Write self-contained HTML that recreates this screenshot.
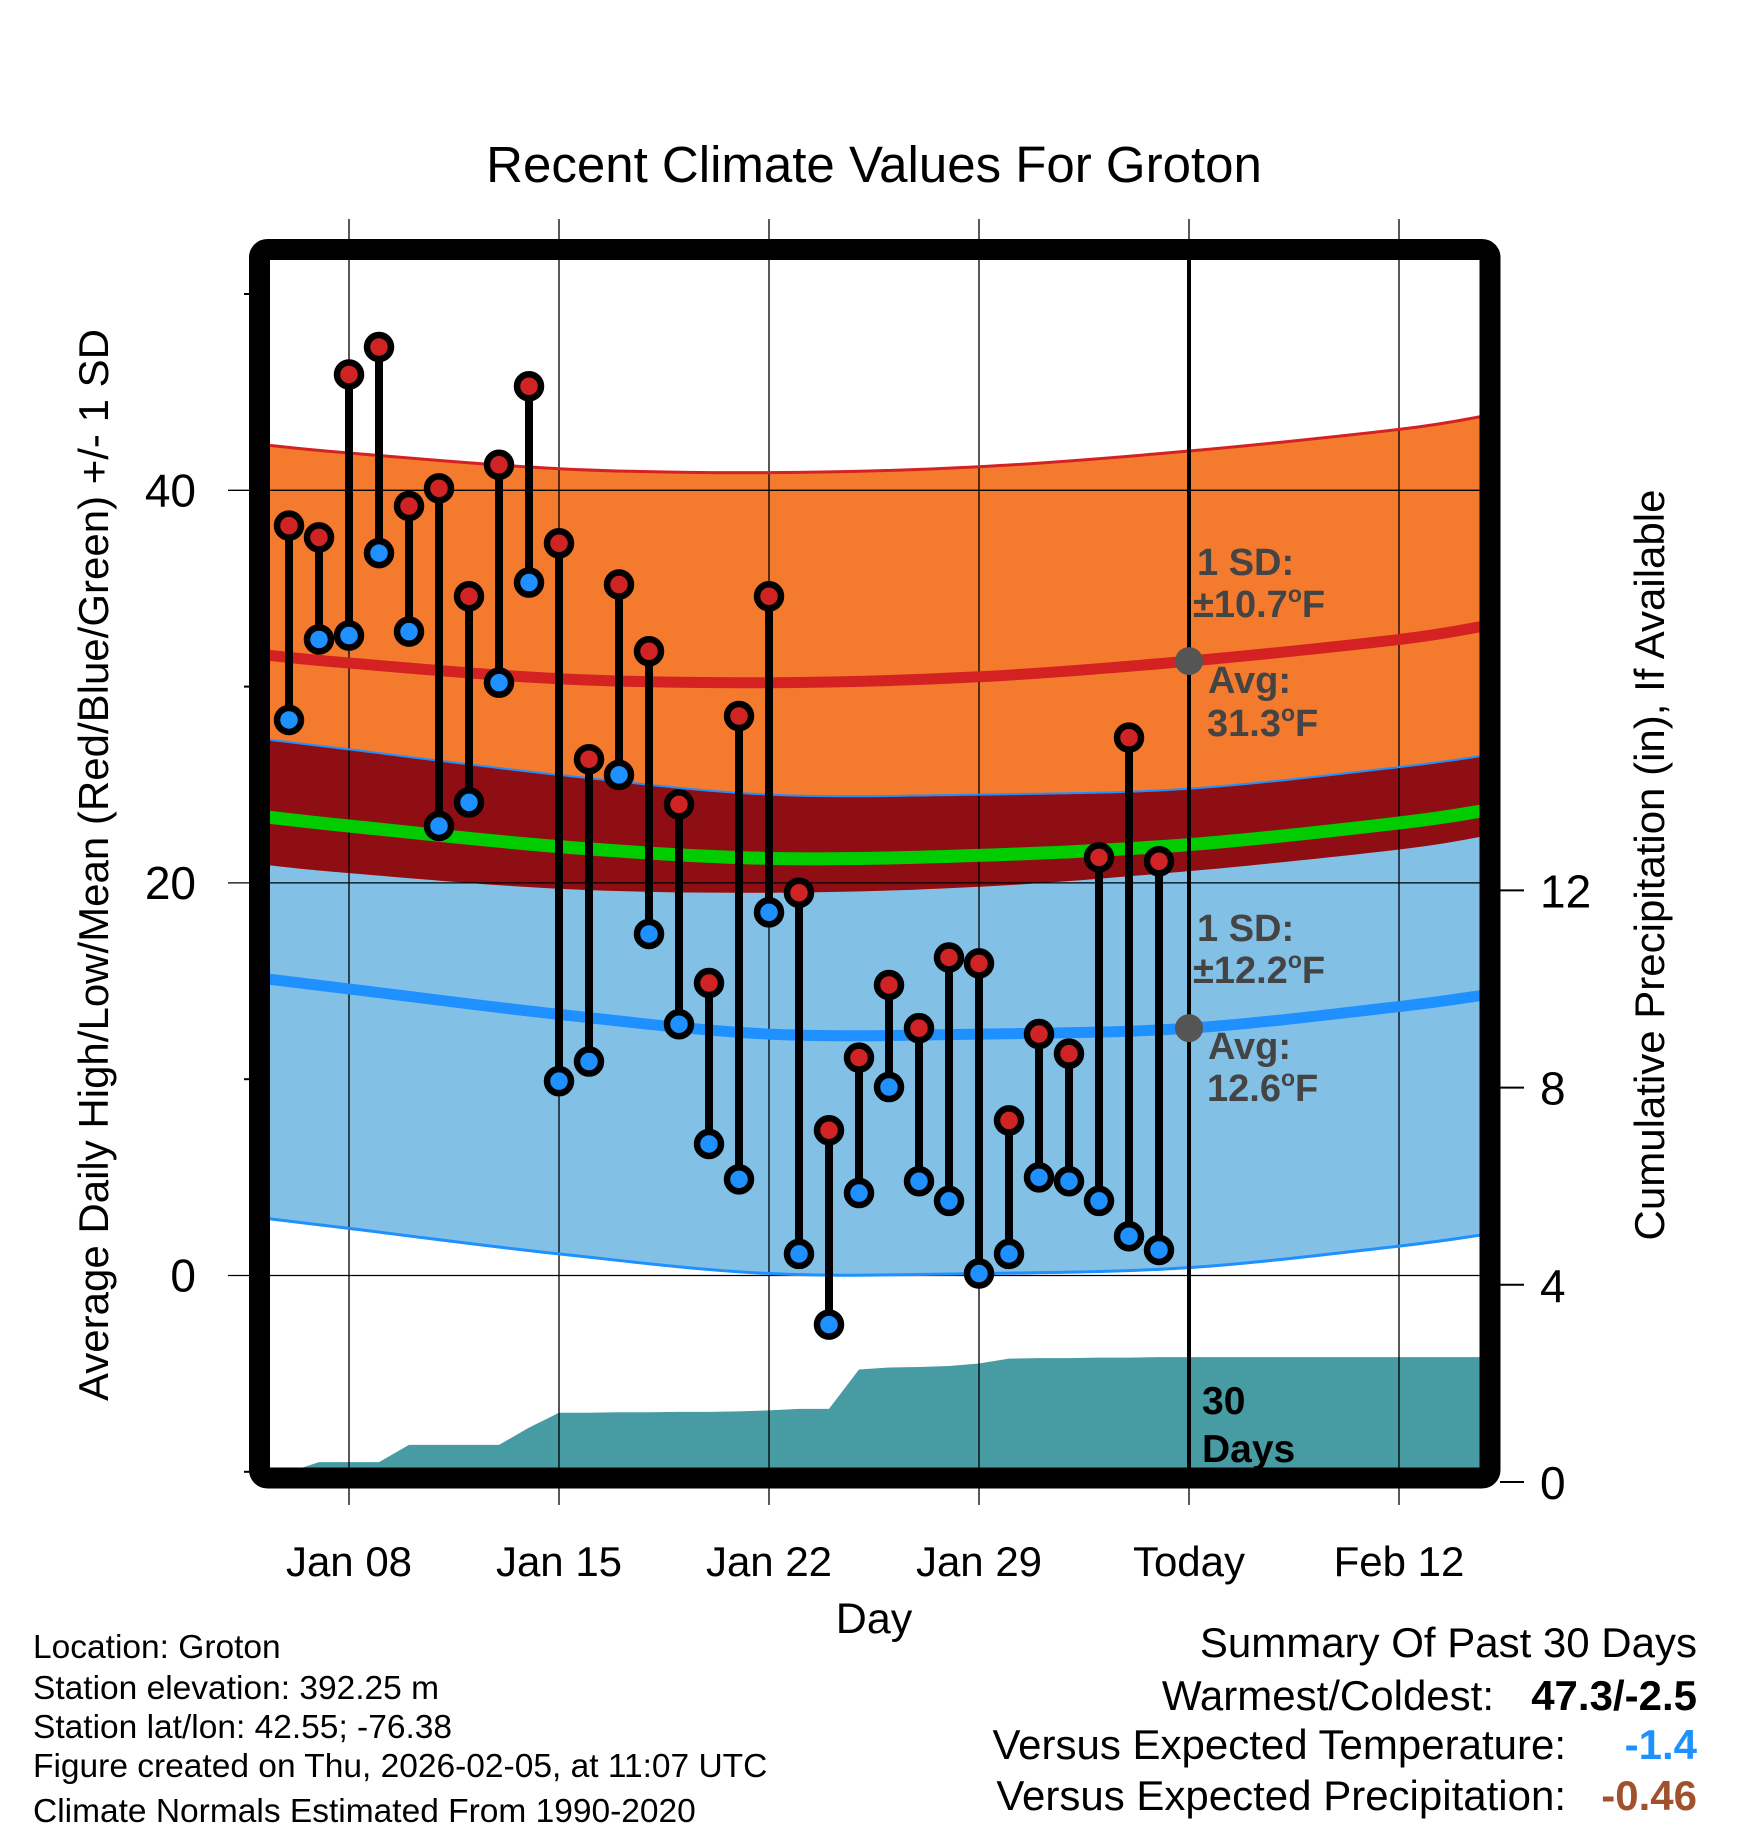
<!DOCTYPE html>
<html><head><meta charset="utf-8"><style>
body{margin:0;background:#fff}
svg{display:block;font-family:"Liberation Sans",sans-serif}
</style></head><body>
<svg id="chart" width="1748" height="1828" viewBox="0 0 1748 1828" xmlns="http://www.w3.org/2000/svg">
<defs><clipPath id="plotclip"><rect x="270" y="260" width="1212" height="1212"/></clipPath></defs>
<text x="874" y="182" font-size="51" text-anchor="middle">Recent Climate Values For Groton</text>
<g id="fills" clip-path="url(#plotclip)"></g>
<g id="grid"></g>
<g id="curves" clip-path="url(#plotclip)"></g>
<g id="marks"></g>
<rect x="259.5" y="249.5" width="1230.5" height="1228.5" rx="8" fill="none" stroke="#000" stroke-width="21"/>
<g id="axes"></g>
<g font-size="38" font-weight="bold" fill="#444">
<text x="1197" y="575">1 SD:</text>
<text x="1193" y="617">±10.7<tspan font-size="23" dy="-15">o</tspan><tspan dy="15">F</tspan></text>
<text x="1208" y="693">Avg:</text>
<text x="1207" y="736">31.3<tspan font-size="23" dy="-15">o</tspan><tspan dy="15">F</tspan></text>
<text x="1197" y="941">1 SD:</text>
<text x="1193" y="983">±12.2<tspan font-size="23" dy="-15">o</tspan><tspan dy="15">F</tspan></text>
<text x="1208" y="1059">Avg:</text>
<text x="1207" y="1101">12.6<tspan font-size="23" dy="-15">o</tspan><tspan dy="15">F</tspan></text>
</g>
<g font-size="39" font-weight="bold" fill="#000">
<text x="1202" y="1414">30</text><text x="1202" y="1462">Days</text>
</g>
<text x="874" y="1633" font-size="43" text-anchor="middle">Day</text>
<text transform="translate(108,865) rotate(-90)" font-size="42" text-anchor="middle">Average Daily High/Low/Mean (Red/Blue/Green) +/- 1 SD</text>
<text transform="translate(1664,865) rotate(-90)" font-size="42" text-anchor="middle">Cumulative Precipitation (in), If Available</text>
<g font-size="33.5">
<text x="33" y="1658">Location: Groton</text>
<text x="33" y="1699">Station elevation: 392.25 m</text>
<text x="33" y="1738">Station lat/lon: 42.55; -76.38</text>
<text x="33" y="1777">Figure created on Thu, 2026-02-05, at 11:07 UTC</text>
<text x="33" y="1822">Climate Normals Estimated From 1990-2020</text>
</g>
<g font-size="42" text-anchor="end">
<text x="1697" y="1657">Summary Of Past 30 Days</text>
<text x="1494" y="1710">Warmest/Coldest:</text>
<text x="1697" y="1710" font-weight="bold">47.3/-2.5</text>
<text x="1566" y="1759">Versus Expected Temperature:</text>
<text x="1697" y="1759" font-weight="bold" fill="#1e90ff">-1.4</text>
<text x="1566" y="1810">Versus Expected Precipitation:</text>
<text x="1697" y="1810" font-weight="bold" fill="#a0522d">-0.46</text>
</g>
</svg>
<script>
// day numbers: January day d, February day = 31 + d
const obsDays = [6,7,8,9,10,11,12,13,14,15,16,17,18,19,20,21,22,23,24,25,26,27,28,29,30,31,32,33,34,35];
const highs = [38.2,37.6,45.9,47.3,39.2,40.1,34.6,41.3,45.3,37.3,26.3,35.2,31.8,24.0,14.9,28.5,34.6,19.5,7.4,11.1,14.8,12.6,16.2,15.9,7.9,12.3,11.3,21.3,27.4,21.1];
const lows = [28.3,32.4,32.6,36.8,32.8,22.9,24.1,30.2,35.3,9.9,10.9,25.5,17.4,12.8,6.7,4.9,18.5,1.1,-2.5,4.2,9.6,4.8,3.8,0.1,1.1,5.0,4.8,3.8,2.0,1.3];
const precipCum = [0,0.2,0.2,0.2,0.55,0.55,0.55,0.55,0.9,1.2,1.2,1.21,1.21,1.22,1.22,1.23,1.25,1.28,1.28,2.08,2.12,2.13,2.15,2.2,2.3,2.31,2.31,2.32,2.32,2.33];
const normDays = [5.3,8,15,22,29,36,43,45.9];
const normHigh = [31.6,31.2,30.4,30.2,30.5,31.3,32.4,33.1];
const normLow = [15.1,14.6,13.3,12.3,12.3,12.6,13.7,14.3];
const sdHigh = 10.7, sdLow = 12.2;
const tempTicks = [-10,0,10,20,30,40,50];
const tempLabels = ["","0","","20","","40",""];
const precipTicks = [0,4,8,12];
const xTickDays = [8,15,22,29,36,43];
const xTickLabels = ["Jan 08","Jan 15","Jan 22","Jan 29","Today","Feb 12"];
const todayDay = 36;

const NS="http://www.w3.org/2000/svg";
const xS = d => 349 + (d-8)*30;
const yT = t => 1275.5 - 19.63*t;
const yP = p => 1472 - 49.3*p;
function mk(parent,tag,attrs){const e=document.createElementNS(NS,tag);for(const k in attrs)e.setAttribute(k,attrs[k]);document.getElementById(parent).appendChild(e);return e;}
function curvePts(f){return normDays.map((d,i)=>[xS(d),yT(f(i))]);}
function smooth(p,start){
  let s=(start?"M":"L")+p[0][0].toFixed(1)+","+p[0][1].toFixed(1);
  for(let i=0;i<p.length-1;i++){
    const p0=p[Math.max(i-1,0)],p1=p[i],p2=p[i+1],p3=p[Math.min(i+2,p.length-1)];
    const c1=[p1[0]+(p2[0]-p0[0])/6,p1[1]+(p2[1]-p0[1])/6];
    const c2=[p2[0]-(p3[0]-p1[0])/6,p2[1]-(p3[1]-p1[1])/6];
    s+=" C"+c1[0].toFixed(1)+","+c1[1].toFixed(1)+" "+c2[0].toFixed(1)+","+c2[1].toFixed(1)+" "+p2[0].toFixed(1)+","+p2[1].toFixed(1);
  }
  return s;
}
function band(top,bot){return smooth(top,true)+" "+smooth(bot.slice().reverse(),false)+" Z";}
const hiTop=curvePts(i=>normHigh[i]+sdHigh), hiBot=curvePts(i=>normHigh[i]-sdHigh);
const loTop=curvePts(i=>normLow[i]+sdLow), loBot=curvePts(i=>normLow[i]-sdLow);
let e;
e=mk('fills','path',{d:band(loTop,loBot),fill:'#82c0e6'});


e=mk('fills','path',{d:band(hiTop,hiBot),fill:'#f47a2e'});


e=mk('fills','path',{d:band(loTop,hiBot),fill:'#8f0e14'});


// precipitation
const pp=[xS(obsDays[0])+","+yP(0)];
obsDays.forEach((d,i)=>pp.push(xS(d)+","+yP(precipCum[i]).toFixed(1)));
pp.push("1482,"+yP(precipCum[precipCum.length-1]).toFixed(1));
pp.push("1482,1472");
e=mk('fills','polygon',{points:pp.join(' '),fill:'#479ba3'});


// grid
xTickDays.forEach((d,i)=>{
  e=mk('grid','line',{x1:xS(d),x2:xS(d),y1:219,y2:1505,stroke:'#000','stroke-width':1.3});
  
  
  e=mk('axes','text',{x:xS(d),y:1576,'font-size':42,'text-anchor':'middle'});
  e.textContent=xTickLabels[i];
  
  
});
tempTicks.forEach((t,i)=>{
  const major=tempLabels[i]!=="";
  if(major){e=mk('grid','line',{x1:228,x2:1482,y1:yT(t),y2:yT(t),stroke:'#000','stroke-width':1.3});}
  else{e=mk('grid','line',{x1:244,x2:260,y1:yT(t),y2:yT(t),stroke:'#000','stroke-width':2});}
  
  
  if(major){
    e=mk('axes','text',{x:196,y:yT(t)+16,'font-size':46,'text-anchor':'end'});
    e.textContent=tempLabels[i];
    
    
  }
});
precipTicks.forEach(p=>{
  e=mk('axes','line',{x1:1500,x2:1524,y1:yP(p)+10,y2:yP(p)+10,stroke:'#000','stroke-width':2});
  
  
  e=mk('axes','text',{x:1540,y:yP(p)+27,'font-size':46});
  e.textContent=String(p);
  
  
});
// curves
e=mk('curves','path',{d:smooth(hiTop,true),fill:'none',stroke:'#d42222','stroke-width':3});


e=mk('curves','path',{d:smooth(loTop,true),fill:'none',stroke:'#1e90ff','stroke-width':2});


e=mk('curves','path',{d:smooth(loBot,true),fill:'none',stroke:'#1e90ff','stroke-width':3});


e=mk('curves','path',{d:smooth(curvePts(i=>normHigh[i]),true),fill:'none',stroke:'#d42222','stroke-width':11});


e=mk('curves','path',{d:smooth(curvePts(i=>normLow[i]),true),fill:'none',stroke:'#1e90ff','stroke-width':11});


e=mk('curves','path',{d:smooth(curvePts(i=>(normHigh[i]+normLow[i])/2),true),fill:'none',stroke:'#00cc00','stroke-width':13});


// today line
e=mk('marks','line',{x1:xS(todayDay),x2:xS(todayDay),y1:260,y2:1472,stroke:'#000','stroke-width':4});


// stems and markers
obsDays.forEach((d,i)=>{
  e=mk('marks','line',{x1:xS(d),x2:xS(d),y1:yT(highs[i]),y2:yT(lows[i]),stroke:'#000','stroke-width':8});
  
  
});
obsDays.forEach((d,i)=>{
  e=mk('marks','circle',{cx:xS(d),cy:yT(highs[i]),r:12,fill:'#d02424',stroke:'#000','stroke-width':6.5});
  
  
  e=mk('marks','circle',{cx:xS(d),cy:yT(lows[i]),r:12,fill:'#1e90ff',stroke:'#000','stroke-width':6.5});
  
  
});
const hiToday=31.3, loToday=12.6;
e=mk('marks','circle',{cx:xS(todayDay),cy:yT(hiToday),r:14,fill:'#555'});


e=mk('marks','circle',{cx:xS(todayDay),cy:yT(loToday),r:14,fill:'#555'});


</script>
</body></html>
